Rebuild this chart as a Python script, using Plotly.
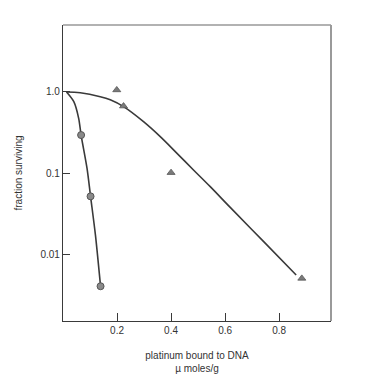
import plotly.graph_objects as go

# Observed data points
circle_x = [0.067, 0.102, 0.139]
circle_y = [0.294, 0.0515, 0.0040]
tri_x = [0.199, 0.224, 0.400, 0.884]
tri_y = [1.06, 0.67, 0.101, 0.0050]

# Fitted curves
circle_curve_x = [0.013, 0.040, 0.058, 0.067, 0.089, 0.102, 0.120, 0.139]
circle_curve_y = [1.0, 0.76, 0.473, 0.294, 0.114, 0.0515, 0.0172, 0.0040]
tri_curve_x = [0.013, 0.064, 0.138, 0.175, 0.224, 0.298, 0.360, 0.422, 0.483,
               0.545, 0.619, 0.742, 0.863]
tri_curve_y = [1.0, 0.98, 0.875, 0.80, 0.659, 0.430, 0.281, 0.175, 0.109,
               0.0678, 0.0376, 0.0143, 0.0055]

x_ticks = [0.2, 0.4, 0.6, 0.8]
x_tick_text = ["0.2", "0.4", "0.6", "0.8"]
y_ticks = [1.0, 0.1, 0.01]
y_tick_text = ["1.0", "0.1", "0.01"]

line_col = "#3a3a3a"
text_col = "#333333"

fig = go.Figure()
fig.add_trace(go.Scatter(x=circle_curve_x, y=circle_curve_y, mode="lines",
                         line=dict(color=line_col, width=1.6, shape="spline", smoothing=0.8),
                         hoverinfo="skip"))
fig.add_trace(go.Scatter(x=tri_curve_x, y=tri_curve_y, mode="lines",
                         line=dict(color=line_col, width=1.6, shape="spline", smoothing=1.0),
                         hoverinfo="skip"))
fig.add_trace(go.Scatter(x=circle_x, y=circle_y, mode="markers",
                         marker=dict(symbol="circle", size=7, color="#8a8a8a",
                                     line=dict(color="#555555", width=1))))
fig.add_trace(go.Scatter(x=tri_x, y=tri_y, mode="markers",
                         marker=dict(symbol="triangle-up", size=7, color="#7a7a7a",
                                     line=dict(color="#555555", width=0.8))))

fig.update_layout(
    width=360, height=375,
    margin=dict(l=55, r=37, t=17, b=62),
    paper_bgcolor="white", plot_bgcolor="white",
    showlegend=False,
    font=dict(family="Liberation Sans, Arial, sans-serif", size=10, color=text_col),
    xaxis=dict(range=[0, 0.992], tickvals=x_ticks, ticktext=x_tick_text,
               ticks="inside", ticklen=8, tickcolor=line_col, tickwidth=1,
               showline=True, linecolor=line_col, linewidth=1.2,
               showgrid=False, zeroline=False, automargin=False,
               title=dict(text="platinum bound to DNA<br>µ moles/g", standoff=16,
                          font=dict(size=10, color=text_col))),
    yaxis=dict(type="log", range=[-2.827, 0.827], tickvals=y_ticks, ticktext=y_tick_text,
               ticks="inside", ticklen=7, tickcolor=line_col, tickwidth=1,
               showline=True, linecolor=line_col, linewidth=1.2,
               showgrid=False, zeroline=False, automargin=False,
               title=dict(text="fraction surviving", standoff=15,
                          font=dict(size=10, color=text_col))),
    shapes=[
        dict(type="line", xref="paper", yref="paper", x0=0, x1=1, y0=1, y1=1,
             line=dict(color="#666666", width=1.2)),
        dict(type="line", xref="paper", yref="paper", x0=1, x1=1, y0=0, y1=1,
             line=dict(color="#9a9a9a", width=2)),
    ],
)

fig.write_html("out.html")
